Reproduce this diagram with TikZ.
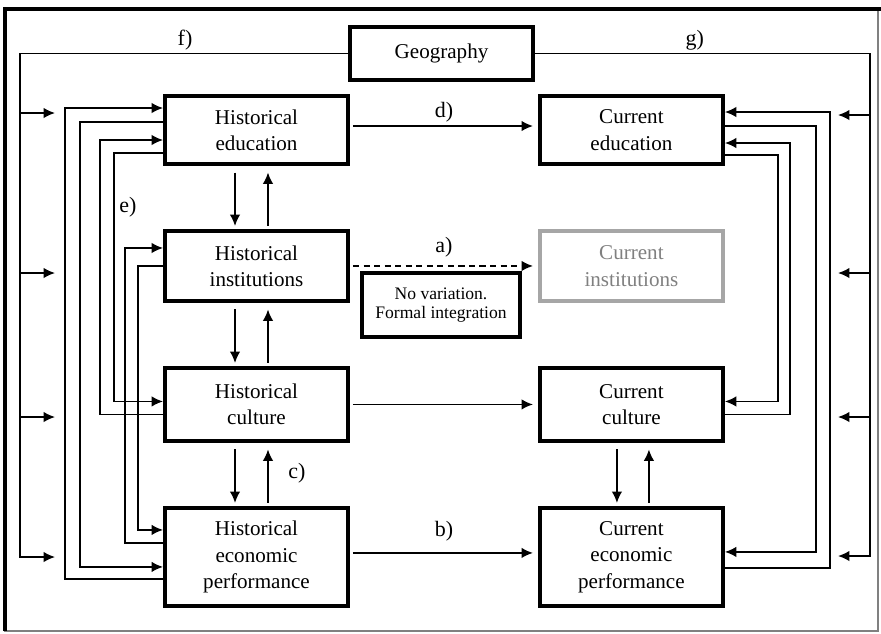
\documentclass[tikz,border=0pt]{standalone}
\usepackage{fontspec}
\setmainfont{Liberation Serif}
\usetikzlibrary{arrows.meta, positioning}
\tikzset{
    blackbox/.style={rectangle, draw=black, line width=2pt, outer sep=0pt, minimum width=3.66cm, minimum height=1.4cm, inner sep=2pt, align=center, font=\fontsize{12}{15}\selectfont},
    greybox/.style={blackbox, draw=black!35, text=black!50},
    notebox/.style={rectangle, draw=black, line width=1.8pt, outer sep=0pt, minimum width=3.16cm, minimum height=1.28cm, align=center, font=\fontsize{10}{11}\selectfont},
    myarrow/.style={-{Latex[length=6.5pt,width=6pt]}, line width=0.9pt},
    mylabel/.style={inner sep=1.5pt, font=\fontsize{12.5}{15}\selectfont}
}
\begin{document}
\begin{tikzpicture}[x=0.02cm, y=-0.02cm, node distance=1.34cm]
    \useasboundingbox (0,0) rectangle (881,633);

        % ------------------
        % frame
        % ------------------

        \draw[black!50, line width=0.8pt] (5,9) rectangle (878,631);
        \draw[line width=2.6pt] (5,631) -- (5,9) -- (881,9);

        % ------------------
        % nodes
        % ------------------

        \node[blackbox, minimum height=1.06cm] (geo) at (441.5,53.5) {Geography};

        \node[blackbox, minimum height=1.36cm] (histedu) at (256.5,130) {Historical\\education};
        \node[blackbox, below=of histedu] (histinst) {Historical\\institutions};
        \node[blackbox, minimum height=1.46cm, below=of histinst] (histcult) {Historical\\culture};
        \node[blackbox, minimum height=1.96cm, below=of histcult] (histecon) {Historical\\economic\\performance};

        \node[blackbox, minimum height=1.36cm, right=3.84cm of histedu] (curedu) {Current\\education};
        \node[greybox, right=3.84cm of histinst] (curinst) {Current\\institutions};
        \node[blackbox, minimum height=1.46cm, right=3.84cm of histcult] (curcult) {Current\\culture};
        \node[blackbox, minimum height=1.96cm, right=3.84cm of histecon] (curecon) {Current\\economic\\performance};

        \node[notebox] (note) at (441,305) {No variation.\\Formal integration};

        \node[mylabel] (labc) at (297,473) {c)};
        \node[mylabel] (labe) at (128,207) {e)};

        % ------------------
        % arrows
        % ------------------

        \draw[myarrow, shorten <=0.1cm, shorten >=0.14cm] ([yshift=0.08cm]histedu.east) to node[mylabel, above]{d)} ([yshift=0.08cm]curedu.west);
        \draw[myarrow, dash pattern=on 3.5pt off 2.5pt, shorten <=0.1cm, shorten >=0.14cm] (histinst.east) to node[mylabel, above=3pt]{a)} (curinst.west);
        \draw[myarrow, shorten <=0.1cm, shorten >=0.14cm] (histcult.east) to (curcult.west);
        \draw[myarrow, shorten <=0.1cm, shorten >=0.14cm] ([yshift=0.08cm]histecon.east) to node[mylabel, above=5pt]{b)} ([yshift=0.08cm]curecon.west);

        \foreach \a/\b in {histedu/histinst, histinst/histcult, histcult/histecon} {
            \draw[myarrow, shorten <=0.17cm, shorten >=0.1cm] ([xshift=-0.43cm]\a.south) -- ([xshift=-0.43cm]\b.north);
            \draw[myarrow, shorten <=0.1cm, shorten >=0.17cm] ([xshift=0.23cm]\b.north) -- ([xshift=0.23cm]\a.south);
        }
        \draw[myarrow, shorten <=0.17cm, shorten >=0.1cm] ([xshift=-0.29cm]curcult.south) -- ([xshift=-0.29cm]curecon.north);
        \draw[myarrow, shorten <=0.1cm, shorten >=0.17cm] ([xshift=0.35cm]curecon.north) -- ([xshift=0.35cm]curcult.south);

        % geography
        \foreach \y [count=\i] in {113,273,417,557} {
            \coordinate (gl\i) at (55,\y);
        }
        \foreach \y [count=\i] in {115,273,417,556} {
            \coordinate (gr\i) at (838,\y);
        }
        \draw[myarrow] (geo.west) -| node[mylabel, above, pos=0.25]{f)} ([xshift=-0.7cm]gl4) -- (gl4);
        \draw[myarrow] (geo.east) -| node[mylabel, above, pos=0.24]{g)} ([xshift=0.64cm]gr4) -- (gr4);
        \foreach \i in {1,2,3} {
            \draw[myarrow] ([xshift=-0.7cm]gl\i) -- (gl\i);
            \draw[myarrow] ([xshift=0.64cm]gr\i) -- (gr\i);
        }

        % historical feedback
        \draw[myarrow, shorten >=0.04cm] ([yshift=-0.44cm]histecon.west) -- ++(-2.0cm,0) |- ([yshift=0.44cm]histedu.west);
        \draw[myarrow, shorten >=0.04cm] ([yshift=0.16cm]histedu.west) -- ++(-1.7cm,0) |- ([yshift=-0.2cm]histecon.west);
        \draw[myarrow, shorten >=0.04cm] ([yshift=-0.2cm]histcult.west) -- ++(-1.3cm,0) |- ([yshift=-0.2cm]histedu.west);
        \draw[myarrow, shorten >=0.04cm] ([yshift=-0.46cm]histedu.west) -- ++(-1.02cm,0) |- ([yshift=0.06cm]histcult.west);
        \draw[myarrow, shorten >=0.04cm] ([yshift=0.28cm]histecon.west) -- ++(-0.8cm,0) |- ([yshift=0.36cm]histinst.west);
        \draw[myarrow, shorten >=0.04cm] (histinst.west) -- ++(-0.54cm,0) |- ([yshift=0.54cm]histecon.west);

        % current feedback
        \draw[myarrow, shorten >=0.04cm] ([yshift=-0.22cm]curecon.east) -- ++(2.14cm,0) |- ([yshift=0.36cm]curedu.east);
        \draw[myarrow, shorten >=0.04cm] ([yshift=0.08cm]curedu.east) -- ++(1.86cm,0) |- ([yshift=0.1cm]curecon.east);
        \draw[myarrow, shorten >=0.04cm] ([yshift=-0.2cm]curcult.east) -- ++(1.34cm,0) |- ([yshift=-0.26cm]curedu.east);
        \draw[myarrow, shorten >=0.04cm] ([yshift=-0.5cm]curedu.east) -- ++(1.1cm,0) |- ([yshift=0.06cm]curcult.east);

    \end{tikzpicture}
\end{document}
